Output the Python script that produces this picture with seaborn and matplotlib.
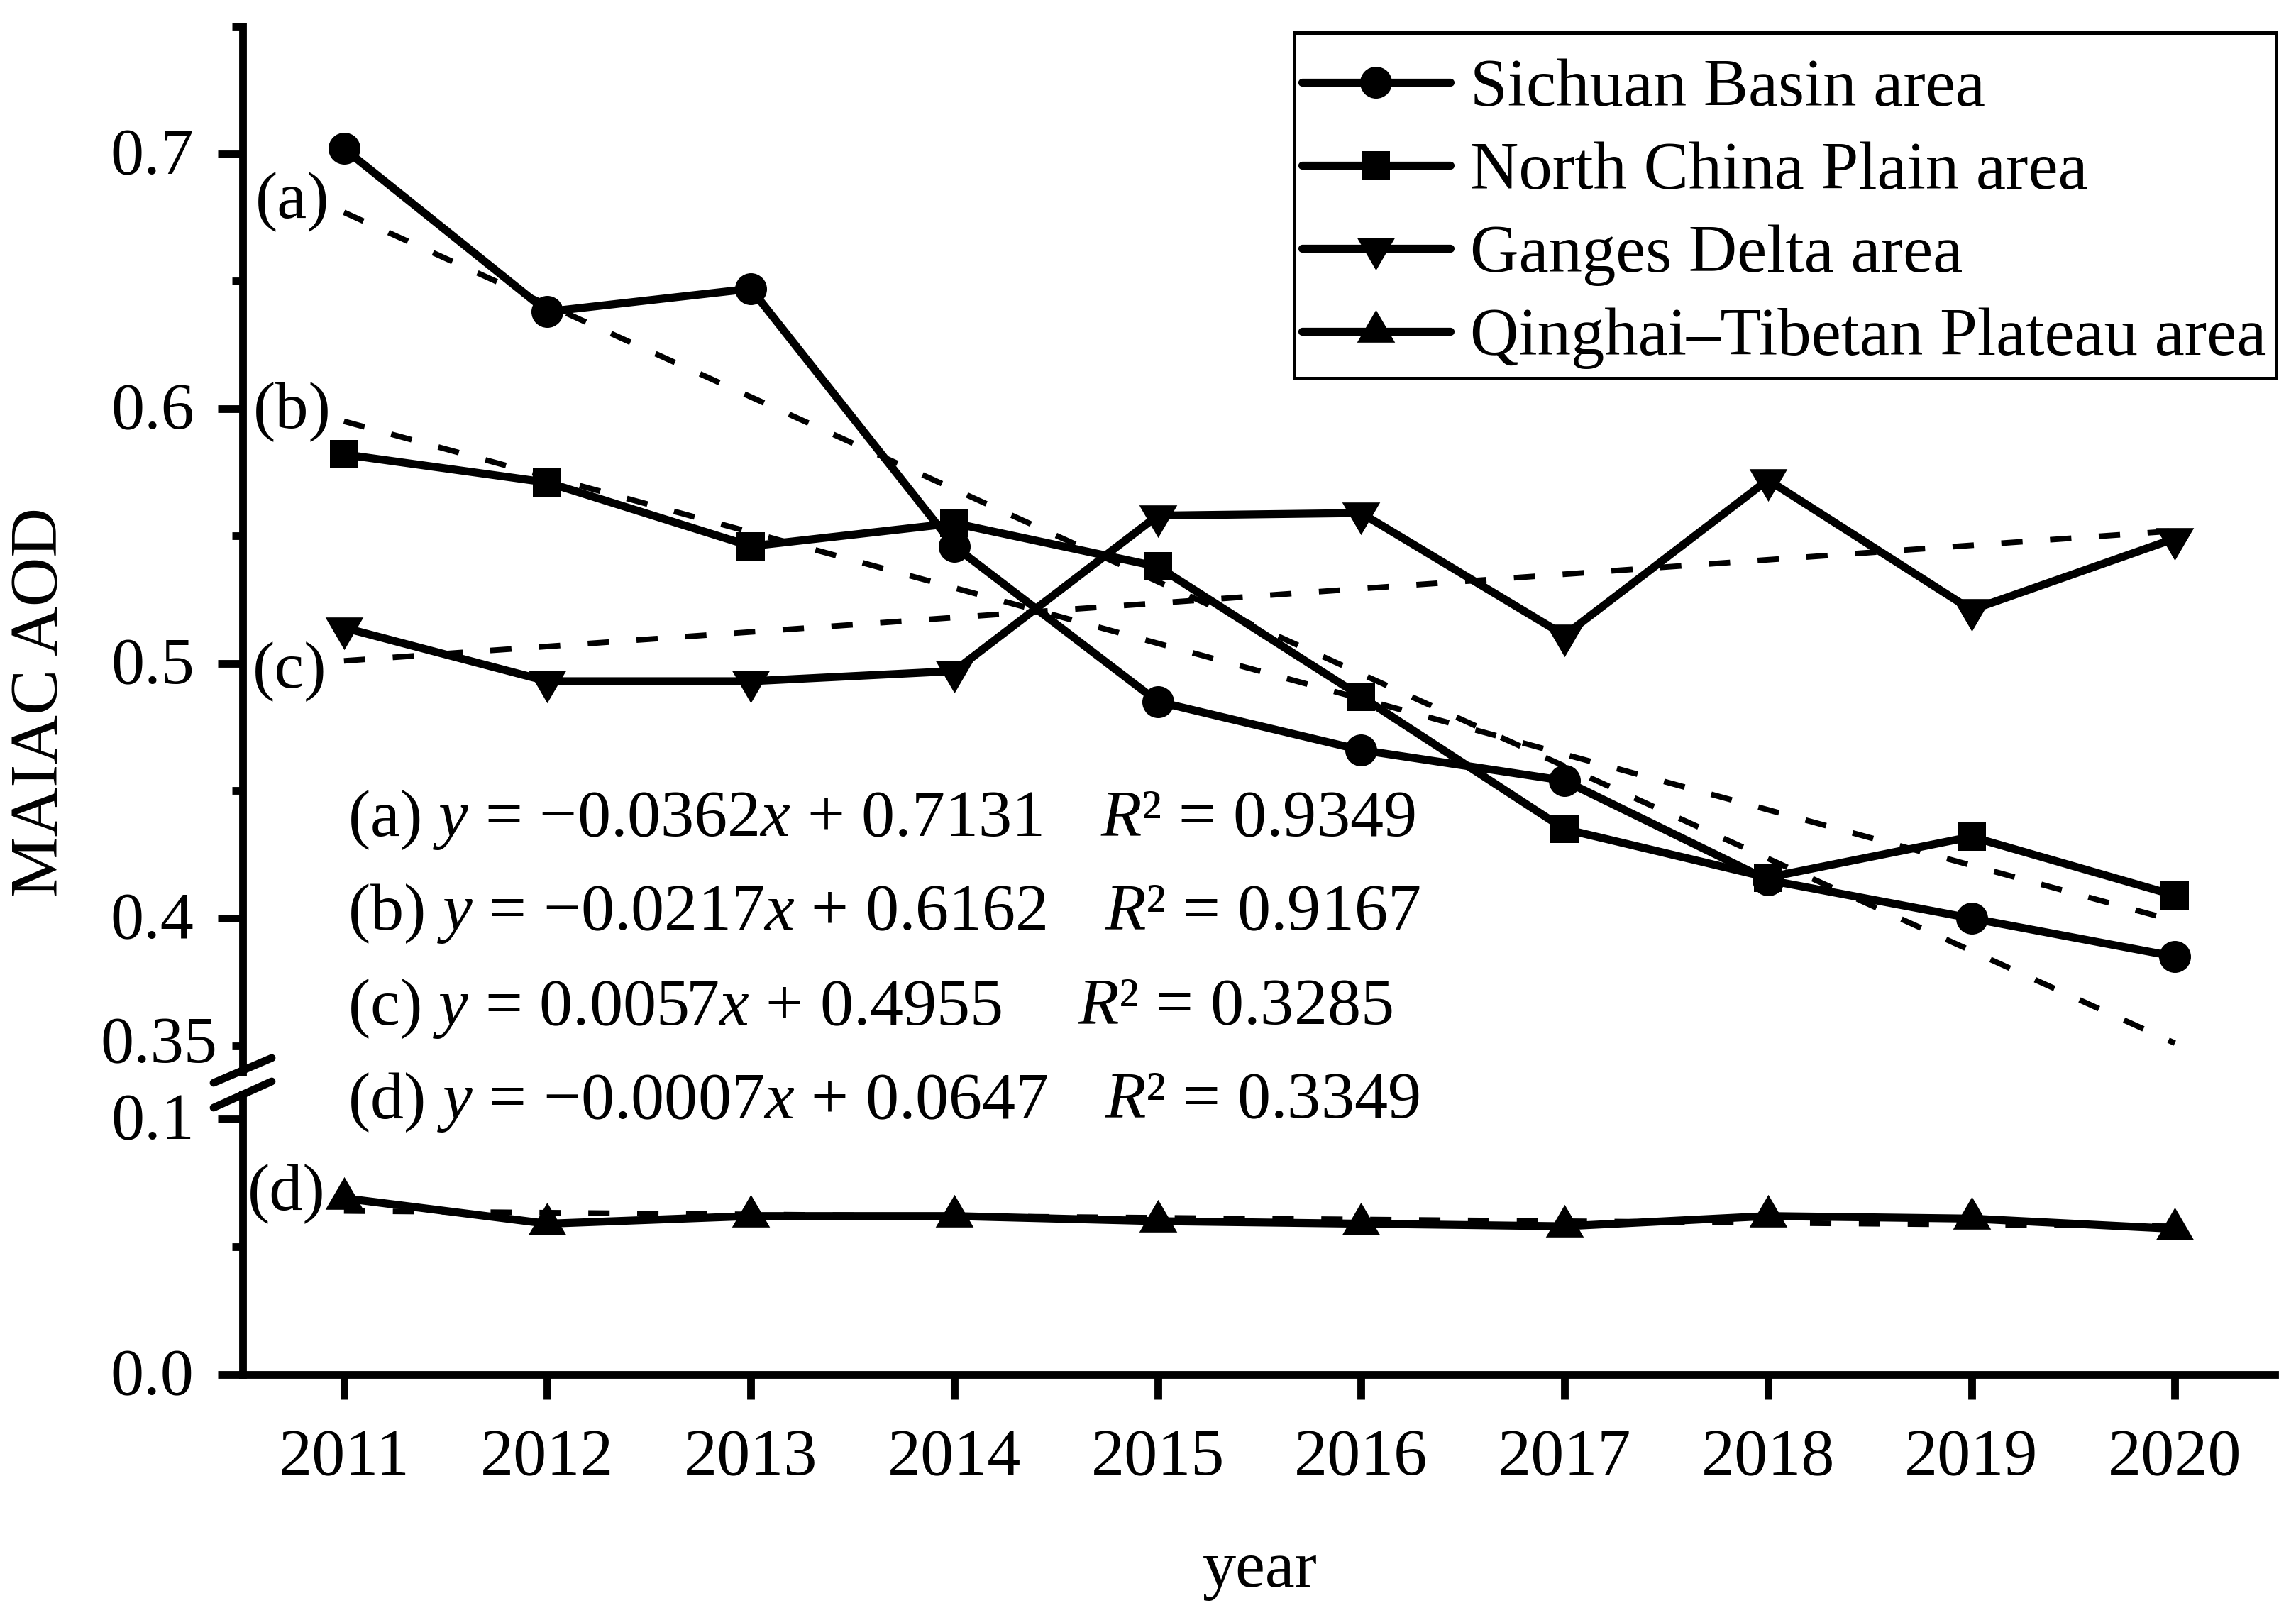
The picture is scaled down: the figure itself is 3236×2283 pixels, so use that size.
import numpy as np
import pandas as pd
import matplotlib
matplotlib.use('Agg')
import matplotlib.pyplot as plt
from matplotlib.lines import Line2D
from matplotlib.patches import Rectangle
from matplotlib.path import Path
from matplotlib.transforms import ScaledTranslation
import seaborn as sns

years = [2011, 2012, 2013, 2014, 2015, 2016, 2017, 2018, 2019, 2020]
sichuan = [0.702, 0.638, 0.647, 0.546, 0.485, 0.466, 0.454, 0.415, 0.400, 0.385]
north_china = [0.582, 0.571, 0.546, 0.555, 0.538, 0.487, 0.435, 0.416, 0.432, 0.409]
ganges = [0.514, 0.493, 0.493, 0.497, 0.558, 0.559, 0.511, 0.572, 0.521, 0.549]
tibet = [0.069, 0.059, 0.062, 0.062, 0.060, 0.059, 0.058, 0.062, 0.061, 0.057]

# dashed trend lines, read at both ends
trend_years = [2011, 2020]
trend_a = [0.677, 0.351]
trend_b = [0.595, 0.399]
trend_c = [0.501, 0.552]
trend_d = [0.064, 0.058]

names = ['Sichuan Basin area', 'North China Plain area', 'Ganges Delta area',
         'Qinghai\u2013Tibetan Plateau area']
year_labels = [str(y) for y in years]

fit_texts = ['(a) $\\mathit{y}$ = \u22120.0362$\\mathit{x}$ + 0.7131',
             '(b) $\\mathit{y}$ = \u22120.0217$\\mathit{x}$ + 0.6162',
             '(c) $\\mathit{y}$ = 0.0057$\\mathit{x}$ + 0.4955',
             '(d) $\\mathit{y}$ = \u22120.0007$\\mathit{x}$ + 0.0647']
r2_texts = ['$\\mathit{R\u00b2}$ = 0.9349', '$\\mathit{R\u00b2}$ = 0.9167',
            '$\\mathit{R\u00b2}$ = 0.3285', '$\\mathit{R\u00b2}$ = 0.3349']

W, H = 3237, 2283
DPI = 300

sns.set_style('ticks')
plt.rcParams['font.family'] = ['Liberation Serif', 'DejaVu Serif']
plt.rcParams['mathtext.fontset'] = 'custom'
plt.rcParams['mathtext.rm'] = 'Liberation Serif'
plt.rcParams['mathtext.it'] = 'Liberation Serif:italic'
plt.rcParams['mathtext.default'] = 'regular'
for key in ['text.color', 'axes.edgecolor', 'axes.labelcolor', 'xtick.color', 'ytick.color']:
    plt.rcParams[key] = 'black'
FS = 22.6
LW = 2.6
LINE_W = 2.7

# triangles as in the original, the line goes through the centroid
tri_up = Path([(-1, -0.572), (1, -0.572), (0, 1.144), (-1, -0.572)], closed=True)
tri_down = Path([(-1, 0.572), (1, 0.572), (0, -1.144), (-1, 0.572)], closed=True)


def box(left, top, right, bottom):
    return [left / W, 1 - bottom / H, (right - left) / W, (bottom - top) / H]


def put(x, y, s, **kw):
    # x, y in pixels of the final image, from the top left
    kw.setdefault('fontsize', FS)
    kw.setdefault('va', 'center')
    kw.setdefault('ha', 'left')
    return fig.text(x / W, 1 - y / H, s, color='black', **kw)


def lift(labels, points):
    for lab in labels:
        lab.set_transform(lab.get_transform() + ScaledTranslation(0, points / 72, fig.dpi_scale_trans))


fig = plt.figure(figsize=(W / DPI, H / DPI), dpi=DPI)
ax_top = fig.add_axes(box(342, 37, 3206, 1511))
ax_bot = fig.add_axes(box(342, 1542, 3206, 1937))

for ax in (ax_top, ax_bot):
    ax.patch.set_alpha(0)

styles = [(ax_top, sichuan, 'o', 10.8), (ax_top, north_china, 's', 9.6),
          (ax_top, ganges, tri_down, 14.7), (ax_bot, tibet, tri_up, 14.7)]
trends = [(ax_top, trend_a), (ax_top, trend_b), (ax_top, trend_c), (ax_bot, trend_d)]

for ax, vals in trends:
    df = pd.DataFrame({'year': trend_years, 'aod': vals})
    sns.lineplot(data=df, x='year', y='aod', ax=ax, color='black', linewidth=1.9,
                 linestyle=(0, (3.8, 4.9)), errorbar=None)

handles = []
for (ax, vals, mk, ms), name in zip(styles, names):
    df = pd.DataFrame({'year': years, 'aod': vals})
    sns.lineplot(data=df, x='year', y='aod', ax=ax, color='black', linewidth=LINE_W,
                 marker=mk, markersize=ms, markeredgewidth=0, errorbar=None,
                 clip_on=False)
    handles.append(Line2D([], [], color='black', linewidth=LINE_W, marker=mk,
                          markersize=ms, markeredgewidth=0, label=name))

for ax in (ax_top, ax_bot):
    ax.set_xlim(2010.502, 2020.491)
    ax.set_xlabel('')
    ax.set_ylabel('')
    sns.despine(ax=ax)
    ax.spines['left'].set_linewidth(LW)
    ax.spines['bottom'].set_linewidth(LW)
    ax.tick_params(axis='both', which='major', length=8.4, width=LW, labelsize=FS, pad=8)
    ax.tick_params(axis='y', which='minor', length=3.6, width=LW, labelsize=FS, pad=5)

ax_top.set_ylim(0.3396, 0.75)
ax_top.set_yticks([0.4, 0.5, 0.6, 0.7])
ax_top.set_yticks([0.35, 0.45, 0.55, 0.65, 0.75], labels=['0.35', '', '', '', ''], minor=True)
ax_top.spines['bottom'].set_visible(False)
ax_top.tick_params(axis='x', which='both', bottom=False, labelbottom=False)

ax_bot.set_ylim(0, 0.1097)
ax_bot.set_yticks([0.0, 0.1])
ax_bot.set_yticklabels(['0.0', '0.1'])
ax_bot.set_yticks([0.05], minor=True)
ax_bot.set_xticks(years)
ax_bot.set_xticklabels(year_labels)
ax_bot.tick_params(axis='x', pad=10)

# tick labels sit a little above their ticks in the original
lift(ax_top.get_yticklabels(), 1)
lift(ax_bot.get_yticklabels(), 1)
lift(ax_top.get_yticklabels(minor=True), 2)

# axis break marks
for y0, y1 in [(1526, 1491), (1561, 1524)]:
    fig.add_artist(Line2D([301 / W, 383 / W], [1 - y0 / H, 1 - y1 / H], color='black',
                          linewidth=LW, transform=fig.transFigure))

# legend frame is drawn apart, its padding differs in x and y
fig.add_artist(Rectangle((1824 / W, 1 - 533 / H), (3208 - 1824) / W, (533 - 46) / H,
                         fill=False, edgecolor='black', linewidth=1.2,
                         transform=fig.transFigure))
leg = ax_top.legend(handles=handles, loc='upper left', ncol=1, frameon=False,
                    bbox_to_anchor=(1835 / W, 1 - 83 / H), bbox_transform=fig.transFigure,
                    fontsize=22.75, borderaxespad=0, borderpad=0,
                    handlelength=2.2, handletextpad=0.3, labelspacing=0.32)

put(1776, 2213, 'year', ha='center')
put(58, 990, 'MAIAC AOD', ha='center', rotation=90, fontsize=23.1)

for s, x, y in zip(['(a)', '(b)', '(c)', '(d)'], [412, 412, 408, 404], [285, 581, 947, 1683]):
    put(x, y, s, ha='center')

for s, r, y, rx in zip(fit_texts, r2_texts, [1156, 1288, 1421, 1553], [1551, 1557, 1519, 1557]):
    put(490, y, s)
    put(rx, y, r)

fig.savefig('out.png', dpi=DPI)
